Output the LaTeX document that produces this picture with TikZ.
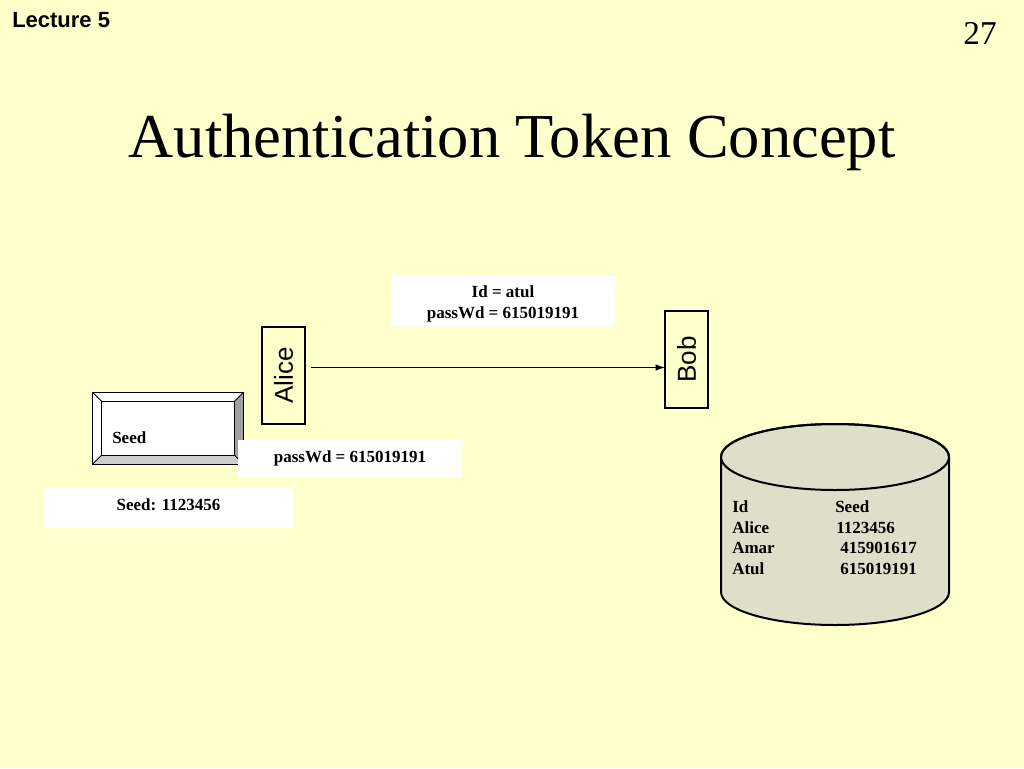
\documentclass[tikz,border=0pt]{standalone}
\usepackage{fontspec}
\setmainfont{Liberation Serif}
\newfontfamily\arialf{Liberation Sans}
\usetikzlibrary{arrows.meta,calc}
\definecolor{bg}{HTML}{FFFFCC}
\definecolor{dbfill}{HTML}{DFDEC9}
\definecolor{bevdark}{HTML}{A0A0A0}
\definecolor{bevlight}{HTML}{CCCCCC}
\tikzset{
  lbl/.style={font=\fontsize{12.75pt}{16pt}\selectfont\bfseries, inner sep=0},
  dbrow/.style={lbl, anchor=base west},
  wbox/.style={fill=white, draw=none, inner sep=0, outer sep=0},
  party/.style={draw, line width=1.4pt, fill=bg, inner sep=0, outer sep=0,
    minimum width=32.25pt, minimum height=72.75pt,
    font=\arialf\fontsize{19.5pt}{20pt}\selectfont},
  thin/.style={line width=0.7pt},
}
\begin{document}
\begin{tikzpicture}[x=0.75pt,y=0.75pt]
\fill[bg] (0,-768) rectangle (1024,0);
\useasboundingbox (0,-768) rectangle (1024,0);

% header
\node[anchor=base west, inner sep=0, font=\arialf\bfseries\fontsize{16.5pt}{18pt}\selectfont] (lec) at (12,-27) {Lecture 5};
\node[anchor=base east, inner sep=0, font=\fontsize{25pt}{28pt}\selectfont] (num) at (997,-44) {27};
\node[anchor=base, inner sep=0, font=\fontsize{46.9pt}{50pt}\selectfont] (title) at (512,-157) {Authentication Token Concept};

% parties
\node[party] (alice) at (283.5,-375.5) {\rotatebox{90}{Alice}};
\node[party] (bob) at (686.5,-359.5) {\rotatebox{90}{Bob}};
\coordinate (s) at (311,-367.5);
\draw[line width=1pt, -{Latex[length=7pt,width=5pt]}] ($(alice.east |- s)+(6,0)$) -- (bob.west |- s);

% message box
\node[wbox, minimum width=168pt, minimum height=38.25pt] (msg) at (503,-301.5) {};
\node[lbl, anchor=base] (msg1) at (503,-297) {Id = atul};
\node[lbl, anchor=base] (msg2) at (503,-318.3) {passWd = 615019191};

% token key
\node[draw, fill=white, thin, inner sep=0, outer sep=0, minimum width=113.25pt, minimum height=54pt] (key) at (168,-428.3) {};
\fill[bevdark] (key.north east) -- (key.south east) -- ($(key.south east)+(-9,9)$) -- ($(key.north east)+(-9,-9)$) -- cycle;
\fill[bevlight] (key.south west) -- (key.south east) -- ($(key.south east)+(-9,9)$) -- ($(key.south west)+(9,9)$) -- cycle;
\draw[thin] (key.north west) rectangle (key.south east);
\draw[thin] ($(key.north west)+(9,-9)$) rectangle ($(key.south east)+(-9,9)$);
\draw[thin] (key.north west) -- ++(9,-9);
\draw[thin] (key.north east) -- ++(-9,-9);
\draw[thin] (key.south west) -- ++(9,9);
\draw[thin] (key.south east) -- ++(-9,9);
\node[lbl, anchor=base west] (keytxt) at (112,-443) {Seed};

% passWd box
\node[wbox, minimum width=168pt, minimum height=27.75pt] (pwbox) at (350,-458.5) {};
\node[lbl, anchor=base] (pwtxt) at (350,-462) {passWd = 615019191};

% seed box
\node[wbox, minimum width=186.75pt, minimum height=30pt] (seedbox) at (168.5,-508) {};
\node[lbl, anchor=base] (seedtxt) at (168.5,-510) {Seed: 1123456};

% database cylinder
\path[draw, fill=dbfill, line width=1.5pt] (721,-457) -- (721,-592)
  arc[start angle=180, end angle=360, x radius=85.5pt, y radius=24.75pt]
  -- (949,-457)
  arc[start angle=0, end angle=180, x radius=85.5pt, y radius=24.75pt] -- cycle;
\draw[line width=1.5pt] (835,-457) ellipse[x radius=85.5pt, y radius=24.75pt];
\node[dbrow] (r0) at (732,-512.5) {\makebox[77.25pt][l]{Id}Seed};
\node[dbrow] (r1) at (732,-533) {\makebox[77.25pt][l]{Alice}\hspace{0.75pt}1123456};
\node[dbrow] (r2) at (732,-553.5) {\makebox[77.25pt][l]{Amar}\hspace{3.75pt}415901617};
\node[dbrow] (r3) at (732,-574) {\makebox[77.25pt][l]{Atul}\hspace{3.75pt}615019191};
\end{tikzpicture}
\end{document}
